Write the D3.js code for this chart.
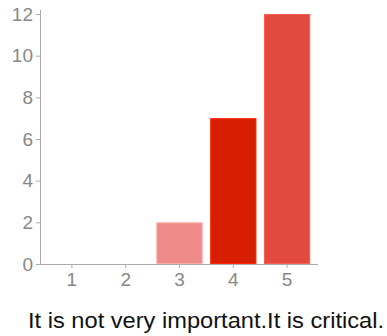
<!DOCTYPE html>
<html><head><meta charset="utf-8">
<script src="https://cdn.jsdelivr.net/npm/d3@7"></script>
<style>body{margin:0;background:#fff}svg{display:block}</style>
</head><body><svg id="c" width="387" height="336"></svg>
<script>
const categories = ["1","2","3","4","5"];
const values = [0,0,2,7,12];
const colors = ["#ee8a88","#ee8a88","#ee8a88","#d81e00","#e24a40"];
const yTicks = [0,2,4,6,8,10,12];
const caption = "It is not very important.It is critical.";

const svg = d3.select("#c");
const x = d3.scaleBand().domain(categories).range([45,314]).paddingInner(0.14).paddingOuter(0.07);
const y = d3.scaleLinear().domain([0,12]).range([264,14]);

const yAxis = svg.append("g").attr("transform","translate(40,0)")
  .call(d3.axisLeft(y).tickValues(yTicks).tickSize(4).tickPadding(3));
const xAxis = svg.append("g").attr("transform","translate(0,264)")
  .call(d3.axisBottom(x).tickSize(4).tickPadding(5));
xAxis.select(".domain").attr("d","M40,0.5H318");
yAxis.select(".domain").attr("d","M0.5,10V264");
svg.selectAll(".domain").attr("stroke","#aaa");
svg.selectAll(".tick line").attr("stroke","#aaa");
svg.selectAll(".tick text").attr("fill","#888").style("font-family","Liberation Sans, Arial, sans-serif").style("font-size","19px");

svg.append("g").selectAll("rect").data(categories.map((c,i)=>({c,v:values[i],col:colors[i]})).filter(d=>d.v>0))
  .join("rect")
  .attr("x",d=>x(d.c)+0.5).attr("y",d=>y(d.v)+0.5)
  .attr("width",x.bandwidth()-1).attr("height",d=>y(0)-y(d.v)-1)
  .attr("fill",d=>d.col).attr("stroke",d=>d3.color(d.col).brighter(0.6)).attr("stroke-width",1);

svg.append("text").attr("x",206).attr("y",328).attr("text-anchor","middle")
  .attr("textLength",356).attr("lengthAdjust","spacingAndGlyphs")
  .style("font-family","Liberation Sans, Arial, sans-serif").style("font-size","22px").attr("fill","#111")
  .text(caption);
</script></body></html>
